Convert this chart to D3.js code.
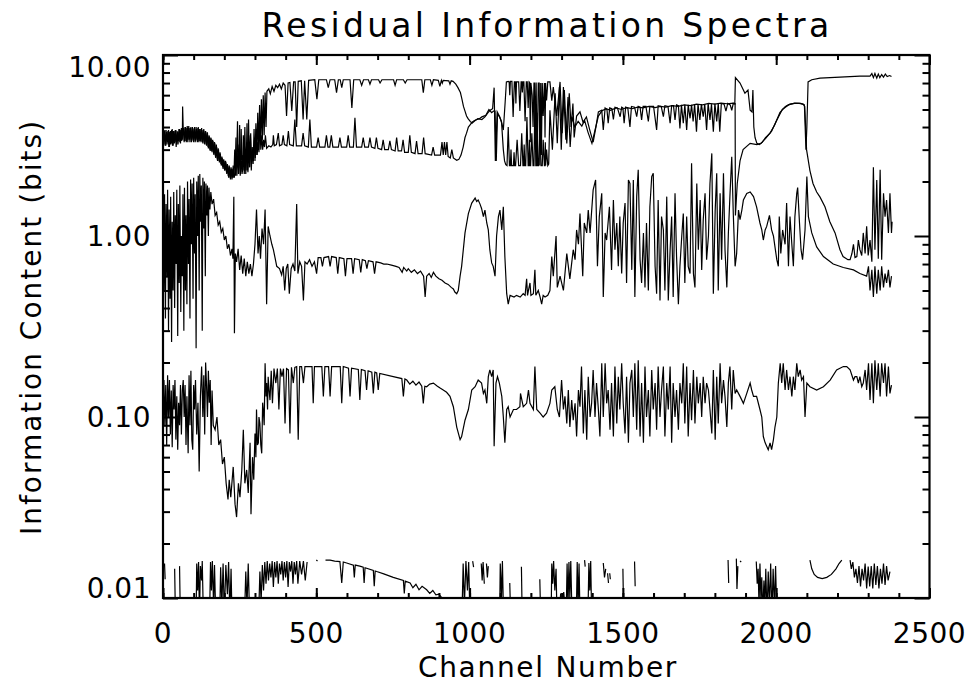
<!DOCTYPE html>
<html>
<head>
<meta charset="utf-8">
<script src="https://cdn.jsdelivr.net/npm/d3@7"></script>
<style>
  body { margin: 0; background: #fff; }
  text { font-family: "DejaVu Sans", sans-serif; fill: #000; }
</style>
</head>
<body>
<div id="chart"></div>
<script>
// axis ticks
const chTicks = [0, 500, 1000, 1500, 2000, 2500];
const infoTicks = [0.01, 0.1, 1, 10];
const infoTickLabels = ["0.01", "0.10", "1.00", "10.00"];

// spectra, [channel, bits]; null = no data
const spectrumA = [[0,3.8],[3,3.2],[6,3.85],[9,3.15],[12,3.75],[15,3.3],[18,3.85],[21,3.1],[24,3.8],[27,3.25],[30,3.9],[33,3.15],[36,3.8],[39,3.3],[42,3.85],[45,3.2],[48,3.75],[51,3.35],[54,3.9],[57,3.25],[60,3.95],[63,3.4],[64,5.2],[66,3.9],[69,3.3],[72,4.0],[75,3.35],[78,3.95],[81,3.3],[84,4.05],[87,3.4],[90,3.95],[93,3.3],[96,4.0],[99,3.35],[102,3.9],[105,3.3],[108,4.0],[111,3.4],[114,3.95],[117,3.3],[120,3.9],[123,3.35],[126,3.95],[129,3.3],[132,3.85],[135,3.25],[138,3.8],[141,3.2],[144,3.75],[147,3.1],[150,3.6],[153,3.0],[156,3.5],[159,2.95],[162,3.4],[165,2.85],[168,3.3],[171,2.75],[174,3.2],[177,2.65],[180,3.05],[183,2.6],[186,2.9],[189,2.5],[192,2.75],[195,2.4],[198,2.65],[201,2.3],[204,2.6],[207,2.25],[210,2.5],[213,2.15],[216,2.45],[219,2.1],[222,2.4],[225,2.05],[228,2.35],[231,2.1],[234,3.0],[237,2.15],[240,2.6],[243,4.3],[246,2.2],[249,3.2],[252,2.15],[255,3.9],[258,2.2],[261,2.8],[264,2.3],[267,4.0],[270,2.2],[273,3.3],[276,2.3],[279,4.4],[282,2.4],[285,3.6],[288,2.3],[291,3.1],[294,2.5],[297,3.9],[300,2.6],[303,4.2],[306,2.8],[309,4.8],[312,3.0],[315,5.3],[318,3.2],[321,5.7],[324,3.4],[327,6.0],[330,3.6],[333,6.2],[336,4.0],[339,6.3],
  [345,6.5],[350,6.1],[356,6.7],[362,6.3],[368,6.8],[374,6.6],[380,6.9],[386,6.5],[392,7.0],[398,6.8],[403,4.6],[408,7.0],[414,7.05],[420,4.9],[426,7.1],[431,7.1],[436,4.0],[441,7.15],[451,7.2],[457,4.4],[462,7.2],[469,4.4],[475,7.25],[495,7.3],[502,5.7],[508,7.3],[533,7.3],[539,6.6],[545,7.3],[560,7.3],[566,6.2],[572,7.3],[578,7.3],[583,6.6],[588,7.3],[610,7.3],[616,5.1],[622,7.3],[642,7.3],[648,6.8],[654,7.3],[670,7.3],[675,6.9],[680,7.3],[703,7.3],[708,7.0],[714,7.3],[752,7.3],[757,6.8],[762,7.3],[784,7.3],[790,7.0],[796,7.3],[844,7.3],[849,6.2],[854,7.3],[872,7.3],[877,6.8],[882,7.3],[898,7.25],[903,6.7],[908,7.25],[911,7.0],[914,7.25],[932,7.2],[936,6.9],[940,7.2],[946,7.15],[955,6.9],[962,6.6],[970,6.2],[975,5.7],[980,5.2],[985,4.9],[990,4.6],[995,4.45],[1002,4.3],[1008,4.2],[1018,4.35],[1027,4.45],[1040,4.4],[1050,4.55],[1060,4.8],[1067,4.95],[1075,5.05],[1080,6.6],[1084,2.6],[1090,4.85],[1097,4.6],[1105,4.2],[1110,3.85],[1116,5.5],[1120,7.1],[1126,7.15],[1129,7.1],[1131,6.0],[1133,7.15],[1138,7.15],[1142,4.55],[1146,7.1],[1149,7.1],[1151,5.4],[1153,7.1],[1160,7.1],[1164,4.9],[1168,7.1],[1170,7.1],[1172,6.2],[1174,7.1],[1177,7.1],[1181,4.3],[1185,7.1],[1188,7.1],[1191,5.1],[1194,7.1],[1196,7.05],[1198,3.3],[1200,7.0],[1204,6.0],[1207,4.0],[1210,7.0],[1212,7.0],[1214,3.0],[1217,7.05],[1220,2.5],[1224,7.0],[1227,7.0],[1229,2.45],[1232,7.0],[1234,2.8],[1237,7.0],[1240,4.6],[1244,7.0],[1246,3.5],[1248,7.0],[1251,5.6],[1255,7.1],[1262,7.1],[1268,5.6],[1273,6.65],[1284,4.6],[1295,7.1],[1302,3.7],[1309,6.4],[1317,3.25],[1325,6.15],[1331,4.0],[1337,5.4],[1341,3.5],[1349,4.6],[1360,4.85],[1370,4.25],[1381,4.55],[1392,3.85],[1403,3.3],[1412,4.0],[1420,4.85],[1431,4.95],
  [1436,3.85],[1442,5.1],[1448,5.0],[1452,4.2],[1457,5.1],[1464,5.05],[1469,4.4],[1474,5.15],[1482,5.1],[1491,4.56],[1496,5.15],[1500,5.1],[1504,4.2],[1509,5.15],[1516,5.1],[1523,4.0],[1528,5.2],[1538,5.15],[1545,4.56],[1550,5.2],[1556,5.15],[1561,4.38],[1566,5.2],[1575,5.2],[1583,4.3],[1588,5.2],[1600,5.2],[1610,3.85],[1615,5.25],[1625,5.2],[1632,4.56],[1637,5.25],[1647,5.2],[1654,4.2],[1659,5.25],[1665,5.25],[1670,4.38],[1675,5.3],[1681,5.25],[1686,3.93],[1691,5.3],[1697,4.2],[1702,5.3],[1708,3.85],[1713,5.3],[1719,4.47],[1724,5.3],[1729,4.3],[1734,5.35],[1740,3.77],[1745,5.35],[1751,4.38],[1756,5.35],[1762,4.56],[1767,5.35],[1773,3.85],[1778,5.4],[1784,4.38],[1789,5.35],[1795,3.77],[1800,5.4],[1806,4.3],[1811,5.4],[1816,3.77],[1821,5.4],[1830,5.35],[1836,4.9],[1842,5.4],[1850,5.3],[1855,4.95],[1860,5.4],[1865,5.35],
  [1867,7.5],[1882,7.0],[1898,6.15],[1908,6.4],[1915,4.95],[1921,4.85],[1924,6.4],[1927,4.0],[1931,3.5],[1937,3.25],[1945,3.2],[1955,3.3],[1965,3.5],[1980,3.7],[1995,4.1],[2012,4.8],[2030,5.2],[2045,5.35],[2060,5.4],[2075,5.4],[2088,5.35],[2093,5.2],[2096,4.0],[2099,3.0],[2110,2.3],[2120,1.95],[2132,1.75],[2143,1.64],[2159,1.45],[2175,1.2],[2192,1.04],[2208,0.84],[2218,0.77],[2234,0.74],[2241,0.74],[2247,0.8],[2252,0.9],[2257,0.76],[2263,0.77],[2268,0.95],[2273,0.84],[2279,0.78],[2284,1.04],[2290,0.8],[2295,1.13],[2300,0.78],[2306,0.95],[2312,0.72],[2317,2.4],[2322,0.84],[2328,2.04],[2333,0.75],[2339,2.32],[2344,0.74],[2350,1.72],[2355,1.28],[2360,1.58],[2366,1.04],[2371,1.72],[2376,1.04],[2378,1.2]];

const spectrumB = [[1,3.3],[4,3.8],[7,3.15],[10,3.85],[13,3.2],[16,3.8],[19,3.1],[22,3.75],[25,3.2],[28,3.85],[31,3.15],[34,3.8],[37,3.25],[40,3.85],[43,3.1],[46,3.8],[49,3.2],[52,3.9],[55,3.3],[58,3.85],[61,3.35],[67,3.95],[70,3.35],[73,4.0],[76,3.3],[79,4.05],[82,3.4],[85,3.95],[88,3.3],[91,4.0],[94,3.4],[97,3.95],[100,3.3],[103,4.0],[106,3.35],[109,3.9],[112,3.3],[115,4.0],[118,3.35],[121,3.9],[124,3.3],[127,3.85],[130,3.25],[133,3.9],[136,3.2],[139,3.8],[142,3.15],[145,3.7],[148,3.05],[151,3.55],[154,2.95],[157,3.45],[160,2.9],[163,3.35],[166,2.8],[169,3.25],[172,2.7],[175,3.1],[178,2.6],[181,3.0],[184,2.55],[187,2.85],[190,2.45],[193,2.7],[196,2.35],[199,2.6],[202,2.3],[205,2.55],[208,2.2],[211,2.45],[214,2.1],[217,2.4],[220,2.05],[223,2.35],[226,2.1],[229,2.45],[232,2.1],[235,2.2],[238,3.5],[241,2.15],[244,2.9],[247,2.2],[250,4.1],[253,2.2],[256,2.6],[259,2.25],[262,3.6],[265,2.2],[268,2.9],[271,2.3],[274,4.2],[277,2.25],[280,3.0],[283,2.4],[286,3.7],[289,2.5],[292,2.9],[295,2.6],[298,3.4],[301,2.7],[304,3.9],[307,2.8],[310,3.3],[313,2.9],[316,4.4],[319,3.0],[322,3.6],[325,3.0],[328,3.4],[331,3.1],[334,3.6],[338,3.05],
  [345,3.15],[352,3.1],[358,3.2],[360,3.6],[363,3.15],[370,3.2],[376,3.7],[380,3.15],[388,3.2],[392,3.6],[396,3.2],[404,3.15],[409,3.8],[413,3.2],[425,3.15],[430,4.4],[435,3.15],[452,3.15],[457,3.7],[462,3.15],[474,3.1],[479,4.4],[484,3.1],[501,3.1],[506,3.5],[511,3.1],[528,3.1],[533,3.6],[538,3.1],[544,3.1],[549,3.6],[554,3.1],[572,3.1],[577,3.5],[582,3.1],[599,3.1],[604,3.6],[609,3.1],[621,3.1],[626,4.5],[631,3.1],[648,3.1],[653,3.5],[658,3.1],[670,3.1],[675,3.5],[680,3.1],[691,3.05],[696,3.5],[701,3.05],[713,3.0],[718,3.4],[723,3.0],[735,3.0],[740,3.35],[745,3.0],[757,2.95],[762,3.5],[767,2.95],[778,2.95],[783,3.4],[788,2.9],[800,2.9],[805,3.6],[810,2.9],[822,2.85],[827,3.35],[832,2.85],[845,2.85],[850,3.5],[855,2.85],[876,2.8],[881,3.1],[886,2.8],[905,2.8],[910,3.3],[914,2.8],[918,3.3],[922,2.8],[926,3.3],[930,2.75],[937,2.7],[942,3.0],[947,2.7],[958,2.62],[965,2.65],[972,2.8],[979,3.1],[985,3.5],[990,3.7],[996,4.0],[1001,4.1],[1008,4.25],[1016,4.35],[1024,4.4],[1032,4.45],[1040,4.55],[1053,4.65],[1063,5.0],[1072,4.8],[1078,4.9],[1083,4.9],[1087,2.6],[1091,4.7],[1098,4.55],[1104,4.3],[1110,3.0],[1114,2.6],[1118,2.48],[1122,2.45],[1126,4.0],[1130,2.45],[1133,2.45],[1135,3.0],[1137,2.45],[1143,2.45],[1145,2.9],[1147,2.45],[1150,2.45],[1155,3.4],[1160,2.45],[1166,2.45],[1170,3.7],[1174,2.45],[1176,2.45],[1178,3.2],[1180,2.45],[1183,2.45],[1187,4.55],[1191,2.45],[1193,2.45],[1195,3.4],[1197,2.45],[1199,2.45],[1203,3.7],[1207,2.45],[1210,2.45],[1213,5.65],[1216,2.45],[1218,2.45],[1220,4.8],[1222,2.45],[1225,2.45],[1229,4.1],[1233,2.45],[1237,2.45],[1240,3.4],[1244,2.45],[1246,2.45],[1247,3.3],[1248,2.45],[1251,3.0],[1255,2.45],[1258,2.5],[1262,4.95],[1270,3.0],[1279,6.15],[1286,3.25],[1293,6.65],[1299,3.0],[1306,6.65],[1314,3.4],[1321,5.85],[1328,3.1],[1334,4.56],[1343,4.0],[1354,4.3],[1366,4.05],[1375,4.35],[1386,3.75],[1399,3.25],[1409,3.85],[1420,4.6],[1431,4.9],
  [1445,5.05],[1460,4.95],[1478,5.1],[1495,5.0],[1512,5.12],[1530,5.05],[1548,5.15],[1565,5.1],[1585,5.2],[1605,5.12],[1622,5.2],[1640,5.15],[1660,5.25],[1680,5.2],[1700,5.3],[1720,5.25],[1740,5.35],[1760,5.3],[1780,5.4],[1800,5.35],[1820,5.42],[1840,5.38],[1860,5.42],[1866,5.4],[1867,1.3],[1873,1.95],[1882,2.6],[1892,3.0],[1915,3.25],[1937,3.2],[1950,3.25],[1965,3.45],[1985,3.8],[2000,4.3],[2020,5.0],[2040,5.3],[2060,5.42],[2080,5.4],[2092,5.3],[2097,3.0],[2100,4.0],[2104,7.1],[2116,7.3],[2143,7.45],[2208,7.55],[2273,7.65],[2306,7.65],[2312,7.9],[2317,7.5],[2322,7.9],[2328,7.45],[2333,7.85],[2338,7.5],[2344,7.8],[2350,7.55],[2356,7.85],[2362,7.6],[2370,7.7],[2376,7.6]];

const spectrumMid = [[0,1.6],[3,0.5],[5,1.7],[8,0.35],[10,1.5],[13,0.6],[15,1.8],[18,0.3],[20,1.4],[23,0.45],[25,1.65],[28,0.26],[30,1.2],[33,0.5],[35,1.75],[38,0.4],[40,1.3],[43,0.7],[45,1.8],[48,0.28],[50,1.5],[53,0.55],[55,1.9],[58,0.38],[60,1.0],[63,0.6],[65,1.7],[68,0.3],[70,1.85],[73,0.5],[75,1.3],[78,0.42],[80,2.0],[83,0.7],[85,1.6],[88,0.35],[90,2.05],[93,0.9],[95,1.95],[98,0.45],[100,2.1],[103,0.8],[105,1.7],[108,0.24],[110,2.0],[113,1.0],[115,2.15],[118,0.5],[120,2.2],[123,1.2],[125,1.9],[128,0.3],[130,2.1],[133,1.1],[135,2.0],[138,0.6],[140,1.95],[143,1.3],[145,1.9],[148,1.0],[150,1.85],[153,1.4],[156,1.75],[160,1.5],[165,1.6],[170,1.3],[175,1.35],[180,1.15],[185,1.2],[190,1.05],[195,1.1],[200,0.95],[205,1.0],[210,0.85],[215,0.9],[220,0.78],[225,0.85],[228,0.75],[231,1.65],[233,0.29],[236,0.8],[240,0.72],[245,0.85],[250,0.65],[255,0.78],[260,0.62],[265,0.75],[270,0.6],[275,0.72],[280,0.62],[285,0.7],[290,0.6],[295,0.7],[300,0.9],[305,1.4],[310,0.8],[314,1.0],[318,0.75],[323,1.1],[328,0.9],[333,1.4],[338,0.42],[343,1.13],[349,1.0],[355,0.9],[360,0.84],[366,0.75],[371,0.68],[380,0.66],[387,0.61],[392,0.68],[397,0.5],[402,0.66],[407,0.7],[412,0.48],[418,0.66],[424,0.7],[430,0.64],[436,1.5],[440,0.62],[446,0.72],[452,0.68],[458,0.44],[463,0.72],[470,0.7],[478,0.74],[486,0.68],[494,0.72],[501,0.62],[506,0.76],
  [515,0.76],[520,0.68],[525,0.76],[540,0.77],[545,0.68],[550,0.77],[565,0.76],[570,0.62],[575,0.76],[590,0.75],[595,0.6],[600,0.75],[615,0.75],[620,0.62],[625,0.75],[640,0.74],[645,0.63],[650,0.74],[660,0.73],[665,0.66],[670,0.73],[685,0.72],[690,0.62],[695,0.72],[710,0.71],[720,0.7],[730,0.7],[745,0.69],[760,0.68],[770,0.67],[780,0.63],[785,0.67],[795,0.64],[800,0.66],[810,0.63],[820,0.65],[830,0.62],[840,0.64],[850,0.6],[855,0.46],[860,0.6],[868,0.62],[875,0.59],[882,0.63],[890,0.6],[900,0.58],[910,0.57],[920,0.55],[930,0.54],[940,0.52],[947,0.51],[952,0.49],[958,0.48],[963,0.5],[969,0.6],[974,0.68],[985,1.04],[996,1.33],[1007,1.52],[1018,1.62],[1023,1.55],[1028,1.58],[1034,1.5],[1039,1.42],[1045,1.28],[1050,1.39],[1056,1.18],[1061,1.08],[1066,0.84],[1072,0.71],[1077,0.68],[1083,0.6],[1088,1.0],[1094,1.28],[1099,1.39],[1105,1.08],[1110,1.45],[1115,0.77],[1121,0.48],[1126,0.42],[1132,0.47],[1145,0.46],[1153,0.47],[1165,0.46],[1175,0.48],[1181,0.47],[1186,0.58],[1189,0.47],[1192,0.5],[1197,0.55],[1200,0.47],[1208,0.48],[1213,0.65],[1216,0.47],[1224,0.5],[1230,0.46],[1235,0.42],[1240,0.47],[1246,0.46],[1255,0.47],[1262,0.5],[1268,0.77],[1273,0.6],[1282,1.0],[1286,0.52],[1295,0.6],[1306,0.5],[1317,0.8],[1327,0.58],[1338,0.84],[1344,0.74],[1349,1.08],[1355,0.9],[1360,1.33],[1369,0.6],[1374,1.18],[1382,1.04],[1387,1.39],[1393,1.04],[1403,1.8],[1411,2.04],[1417,0.68],
  [1423,1.28],[1431,1.72],[1436,0.46],[1442,1.04],[1447,0.95],[1456,1.45],[1463,0.65],[1469,1.58],[1474,0.84],[1480,1.18],[1485,0.68],[1490,1.28],[1496,0.62],[1501,1.18],[1507,1.52],[1512,0.55],[1518,2.04],[1523,1.95],[1529,0.65],[1534,2.04],[1539,0.46],[1545,1.65],[1550,2.32],[1556,0.74],[1561,0.55],[1567,1.04],[1572,0.52],[1577,1.18],[1583,0.5],[1588,1.45],[1594,2.13],[1599,2.22],[1605,0.68],[1610,0.48],[1615,1.58],[1621,0.44],[1626,1.28],[1632,1.08],[1637,0.5],[1643,1.65],[1648,0.44],[1654,0.84],[1659,1.28],[1664,0.46],[1670,1.72],[1675,0.77],[1681,0.42],[1686,0.68],[1692,1.0],[1697,1.33],[1702,0.55],[1708,1.28],[1713,0.68],[1719,0.62],[1724,2.52],[1730,0.62],[1735,0.52],[1741,1.95],[1746,0.84],[1752,1.58],[1757,0.65],[1762,1.23],[1768,1.72],[1773,0.74],[1779,1.0],[1784,1.95],[1790,2.86],[1795,0.48],[1801,1.39],[1806,2.22],[1811,0.5],[1817,1.72],[1822,0.74],[1828,2.22],[1833,0.84],[1839,0.52],[1844,1.04],[1849,1.65],[1855,2.74],[1860,1.33],[1866,0.68],[1871,0.8],[1877,1.39],[1882,1.23],[1888,1.39],[1893,1.58],[1904,1.72],[1915,1.75],[1926,1.65],[1936,1.45],[1947,1.18],[1953,1.08],[1958,0.95],[1964,1.08],[1969,1.13],[1978,1.3],[1985,1.08],[1991,1.0],[1996,0.87],[2002,0.74],[2007,0.68],[2010,1.28],[2015,0.8],[2021,1.08],[2029,0.9],[2034,1.52],[2040,0.68],[2045,1.28],[2051,0.9],[2056,0.68],[2061,1.28],[2067,1.72],[2070,1.85],[2076,1.18],[2081,0.84],[2086,0.74],[2094,1.08],[2100,2.13],[2105,1.28],[2116,1.04],[2132,0.87],[2154,0.77],[2186,0.7],[2219,0.67],[2252,0.65],[2273,0.62],[2295,0.6],[2301,0.68],[2306,0.5],[2312,0.65],[2317,0.46],[2322,0.68],[2328,0.48],[2333,0.65],[2339,0.5],[2344,0.68],[2350,0.52],[2355,0.62],[2360,0.55],[2366,0.65],[2371,0.52],[2376,0.6]];

const spectrumLow = [[0,0.12],[3,0.16],[6,0.09],[9,0.15],[12,0.07],[15,0.17],[18,0.1],[21,0.16],[24,0.08],[27,0.14],[30,0.068],[33,0.15],[36,0.11],[39,0.16],[42,0.075],[45,0.13],[48,0.066],[51,0.12],[54,0.09],[57,0.15],[60,0.08],[63,0.14],[66,0.16],[69,0.1],[72,0.15],[75,0.07],[78,0.13],[82,0.063],[85,0.17],[88,0.09],[91,0.18],[94,0.075],[97,0.066],[100,0.15],[103,0.11],[106,0.16],[110,0.08],[114,0.12],[118,0.05],[122,0.13],[126,0.19],[130,0.1],[133,0.17],[136,0.08],[139,0.2],[142,0.15],[145,0.1],[148,0.18],[151,0.12],[154,0.16],[157,0.07],[160,0.14],[164,0.09],[170,0.085],[176,0.1],[182,0.07],[188,0.075],[194,0.055],[200,0.06],[206,0.043],[212,0.035],[216,0.045],[221,0.036],[229,0.053],[235,0.033],[240,0.028],[246,0.043],[251,0.036],[257,0.051],[262,0.085],[267,0.043],[273,0.051],[278,0.038],[284,0.072],[287,0.029],[292,0.06],[296,0.045],[300,0.081],[303,0.06],[305,0.11],[308,0.07],[311,0.072],[313,0.1],[316,0.092],[319,0.07],[322,0.063],[325,0.12],[327,0.11],[330,0.09],[333,0.198],[336,0.13],[338,0.154],[341,0.11],[343,0.167],[346,0.14],[349,0.124],[353,0.18],[357,0.119],[362,0.185],[368,0.154],[373,0.185],[378,0.11],[383,0.185],[388,0.167],[393,0.185],[398,0.092],[403,0.185],[409,0.182],[414,0.081],[419,0.188],[425,0.154],[430,0.188],[436,0.19],[441,0.075],[446,0.19],[452,0.19],[458,0.154],[463,0.19],[479,0.19],[486,0.19],[490,0.119],[494,0.19],[518,0.19],[523,0.13],[528,0.19],[540,0.19],[545,0.13],[550,0.19],[578,0.19],[583,0.119],[588,0.19],[605,0.186],[610,0.13],[615,0.186],[637,0.183],[642,0.124],[647,0.183],[659,0.18],[664,0.141],[669,0.18],[681,0.177],[686,0.135],[691,0.177],[697,0.175],[702,0.141],[707,0.174],[751,0.167],[779,0.163],[784,0.13],[789,0.162],[795,0.16],[805,0.152],[815,0.158],[825,0.15],[835,0.156],[844,0.148],[849,0.119],[854,0.148],[860,0.147],[870,0.152],[882,0.154],[895,0.148],[905,0.144],[914,0.141],[925,0.137],[936,0.13],[947,0.114],[958,0.088],[969,0.075],[974,0.078],[985,0.096],[996,0.11],[1007,0.141],[1018,0.147],[1028,0.16],[1039,0.154],[1045,0.135],[1050,0.141],[1056,0.119],[1061,0.167],[1066,0.182],[1072,0.167],[1077,0.182],[1080,0.069],[1086,0.154],[1091,0.167],[1097,0.154],[1105,0.13],[1110,0.1],[1115,0.072],[1121,0.11],[1126,0.114],[1132,0.1],[1143,0.11],[1153,0.11],[1164,0.114],[1166,0.135],[1175,0.114],[1186,0.119],[1192,0.141],[1197,0.119],[1208,0.11],[1213,0.19],[1219,0.11],[1230,0.105],[1240,0.1],[1251,0.105],[1262,0.119],[1268,0.141],[1278,0.147],[1286,0.11],[1293,0.1],[1300,0.16],[1306,0.11],[1311,0.13],[1317,0.092],[1322,0.141],[1327,0.088],[1333,0.124],[1338,0.096],[1344,0.119],[1349,0.078],[1355,0.141],[1360,0.114],[1365,0.19],[1371,0.081],[1376,0.141],[1382,0.075],[1387,0.167],[1393,0.1],[1398,0.119],[1403,0.182],[1409,0.1],[1414,0.154],[1420,0.11],[1425,0.078],[1431,0.198],[1436,0.1],[1442,0.198],[1447,0.119],[1452,0.141],[1458,0.085],[1463,0.154],[1469,0.078],[1474,0.19],[1480,0.092],[1485,0.167],[1490,0.11],[1496,0.198],[1501,0.119],[1507,0.081],[1512,0.167],[1518,0.072],[1523,0.154],[1529,0.182],[1534,0.1],[1539,0.198],[1545,0.085],[1550,0.206],[1556,0.078],[1561,0.154],[1567,0.072],[1572,0.19],[1577,0.1],[1583,0.141],[1588,0.078],[1594,0.182],[1599,0.11],[1605,0.154],[1610,0.085],[1615,0.19],[1621,0.1],[1626,0.141],[1632,0.19],[1637,0.078],[1643,0.154],[1648,0.11],[1654,0.19],[1659,0.072],[1664,0.154],[1670,0.1],[1675,0.141],[1681,0.085],[1686,0.154],[1692,0.119],[1697,0.198],[1702,0.092],[1708,0.19],[1713,0.078],[1719,0.154],[1724,0.096],[1730,0.182],[1735,0.092],[1741,0.167],[1746,0.119],[1752,0.154],[1757,0.1],[1762,0.167],[1768,0.119],[1773,0.154],[1779,0.141],[1784,0.11],[1790,0.081],[1795,0.182],[1801,0.075],[1806,0.167],[1811,0.092],[1817,0.198],[1822,0.119],[1828,0.16],[1833,0.13],[1839,0.088],[1844,0.154],[1849,0.19],[1855,0.11],[1860,0.182],[1866,0.135],[1871,0.141],[1882,0.13],[1893,0.119],[1904,0.135],[1915,0.154],[1920,0.141],[1926,0.13],[1936,0.13],[1947,0.11],[1953,0.1],[1958,0.078],[1964,0.072],[1969,0.069],[1974,0.066],[1980,0.072],[1985,0.066],[1991,0.075],[1996,0.088],[2002,0.1],[2007,0.154],[2013,0.198],[2018,0.154],[2023,0.198],[2029,0.141],[2034,0.182],[2040,0.141],[2045,0.167],[2051,0.13],[2056,0.167],[2061,0.141],[2067,0.198],[2072,0.167],[2078,0.182],[2083,0.16],[2089,0.167],[2094,0.1],[2100,0.154],[2110,0.147],[2132,0.141],[2154,0.147],[2176,0.16],[2197,0.182],[2219,0.19],[2230,0.19],[2241,0.182],[2252,0.16],[2257,0.167],[2263,0.167],[2268,0.154],[2273,0.167],[2279,0.147],[2284,0.154],[2290,0.182],[2295,0.141],[2301,0.198],[2306,0.124],[2312,0.198],[2317,0.119],[2322,0.206],[2328,0.141],[2333,0.198],[2339,0.13],[2344,0.198],[2350,0.154],[2355,0.198],[2360,0.13],[2366,0.19],[2371,0.135],[2376,0.15]];

const spectrumFloor = [[5,0.0155],[7,0.0127],[7,null],[38,0.0145],[40,0.009],[40,null],[54,0.015],[56,0.009],[56,null],
  [108,0.008],[110,0.0155],[113,0.011],[116,0.0158],[119,0.008],[122,0.015],[126,0.0125],[128,0.016],[131,0.009],[131,null],
  [152,0.008],[155,0.0158],[158,0.011],[161,0.016],[165,0.009],[168,0.0152],[172,0.008],[172,null],
  [185,0.008],[188,0.0148],[192,0.009],[196,0.0155],[200,0.008],[205,0.0152],[210,0.0105],[214,0.0158],[218,0.008],[222,0.0145],[225,0.008],[225,null],
  [266,0.008],[270,0.014],[274,0.009],[278,0.0155],[282,0.0085],[282,null],
  [312,0.008],[316,0.014],[320,0.0095],[324,0.0152],[328,0.011],[332,0.0158],[336,0.012],[340,0.016],[344,0.0125],[348,0.0155],[352,0.013],[356,0.016],[360,0.0115],[364,0.0158],[368,0.013],[372,0.016],[376,0.012],[380,0.0155],[384,0.0135],[388,0.016],[392,0.0125],[396,0.0158],[400,0.013],[404,0.016],[408,0.0115],[412,0.0158],[416,0.014],[420,0.016],[424,0.012],[428,0.0158],[432,0.0135],[436,0.016],[440,0.012],[446,0.016],[452,0.0135],[458,0.016],[464,0.0125],[470,0.0158],[470,null],[500,0.0162],[504,0.016],[504,null],
  [530,0.0162],[545,0.0162],[560,0.016],[577,0.0159],[583,0.0121],[588,0.0158],[599,0.0156],[621,0.0152],[624,0.013],[627,0.0152],[642,0.015],[653,0.0148],[656,0.0121],[659,0.0147],[686,0.0142],[689,0.0116],[692,0.0141],[697,0.014],[720,0.0136],[751,0.013],[784,0.0125],[787,0.0106],[790,0.0124],[806,0.0121],[815,0.0114],[825,0.0119],[835,0.0111],[845,0.0116],[860,0.0111],[870,0.0106],[880,0.011],[890,0.0104],[900,0.0105],[914,0.0098],[925,0.009],[925,null],
  [975,0.008],[979,0.0155],[983,0.009],[988,0.016],[993,0.011],[997,0.0158],[1001,0.008],[1001,null],[1010,0.016],[1013,0.0148],[1013,null],
  [1038,0.0155],[1041,0.0125],[1044,0.0158],[1048,0.012],[1048,null],[1055,0.0155],[1058,0.013],[1061,0.015],[1061,null],
  [1098,0.008],[1100,0.0155],[1104,0.01],[1107,0.016],[1110,0.009],[1110,null],[1131,0.0121],[1133,0.009],[1133,null],
  [1169,0.0149],[1171,0.009],[1171,null],[1201,0.0106],[1203,0.009],[1203,null],[1229,0.0127],[1231,0.009],[1231,null],
  [1266,0.008],[1268,0.0155],[1271,0.012],[1274,0.016],[1278,0.011],[1282,0.0145],[1285,0.008],[1285,null],
  [1294,0.009],[1297,0.0106],[1302,0.009],[1307,0.0108],[1311,0.009],[1311,null],
  [1315,0.008],[1318,0.0155],[1321,0.009],[1324,0.0158],[1327,0.01],[1330,0.016],[1334,0.008],[1334,null],
  [1348,0.008],[1351,0.0158],[1354,0.009],[1357,0.0155],[1360,0.008],[1360,null],[1375,0.0162],[1377,0.0149],[1377,null],
  [1386,0.008],[1389,0.0156],[1392,0.011],[1395,0.016],[1398,0.008],[1398,null],
  [1436,0.0156],[1440,0.013],[1444,0.0145],[1444,null],[1450,0.0137],[1453,0.0121],[1453,null],[1457,0.0137],[1459,0.0127],[1459,null],
  [1500,0.0145],[1502,0.009],[1502,null],[1538,0.0159],[1540,0.0116],[1540,null],[1600,0.0106],[1602,0.009],[1602,null],[1701,0.0106],[1703,0.009],[1703,null],
  [1843,0.0162],[1845,0.0121],[1845,null],[1870,0.0165],[1872,0.0112],[1875,0.015],[1875,null],[1882,0.016],[1886,0.0158],[1886,null],
  [1935,0.0159],[1938,0.012],[1941,0.0145],[1944,0.009],[1947,0.0155],[1950,0.01],[1953,0.013],[1956,0.008],[1960,0.0125],[1963,0.009],[1966,0.0145],[1970,0.008],[1974,0.014],[1978,0.009],[1982,0.0155],[1986,0.008],[1990,0.0145],[1994,0.009],[1998,0.015],[2002,0.008],[2002,null],
  [2110,0.0162],[2116,0.0145],[2124,0.0135],[2135,0.013],[2150,0.0128],[2165,0.013],[2180,0.0135],[2195,0.0145],[2205,0.0155],[2214,0.0162],[2214,null],
  [2241,0.0162],[2245,0.0145],[2250,0.0158],[2255,0.013],[2260,0.0145],[2265,0.0121],[2270,0.015],[2275,0.0116],[2280,0.0145],[2285,0.0125],[2290,0.0155],[2295,0.0113],[2300,0.0149],[2305,0.0116],[2310,0.015],[2315,0.0113],[2320,0.0155],[2325,0.0118],[2330,0.015],[2335,0.0113],[2340,0.0145],[2345,0.012],[2350,0.0155],[2355,0.0118],[2360,0.015],[2365,0.0125],[2371,0.014]];

const W = 973, H = 693;
const plot = { left: 163, right: 929.5, top: 55, bottom: 598 };

const x = d3.scaleLinear().domain([0, 2500]).range([plot.left, plot.right]);
const y = d3.scaleLog().domain([0.01, 10]).range([plot.bottom, plot.top]);

const svg = d3.select("#chart")
  .append("svg")
  .attr("width", W)
  .attr("height", H);

svg.append("defs").append("clipPath")
  .attr("id", "clip-plot")
  .append("rect")
  .attr("x", plot.left)
  .attr("y", plot.top)
  .attr("width", plot.right - plot.left)
  .attr("height", plot.bottom - plot.top);

const line = d3.line()
  .defined(d => d[1] != null)
  .x(d => x(d[0]))
  .y(d => y(d[1]));

const curves = svg.append("g").attr("clip-path", "url(#clip-plot)");
[spectrumA, spectrumB, spectrumMid, spectrumLow, spectrumFloor].forEach(s => {
  curves.append("path")
    .datum(s)
    .attr("fill", "none")
    .attr("stroke", "#000")
    .attr("stroke-width", 1.2)
    .attr("d", line);
});

// ticks pointing inward on all four sides
const minorCh = d3.range(0, 2501, 100);
const minorInfo = [];
[0.01, 0.1, 1].forEach(dec => { for (let k = 2; k <= 9; k++) minorInfo.push(dec * k); });

function ticks(axis, values, size, transform) {
  svg.append("g")
    .attr("transform", transform)
    .call(axis.tickValues(values).tickSize(-size).tickFormat(""))
    .call(g => g.select(".domain").remove())
    .call(g => g.selectAll("line").attr("stroke", "#000").attr("stroke-width", 2));
}
ticks(d3.axisBottom(x), minorCh, 5, `translate(0,${plot.bottom})`);
ticks(d3.axisBottom(x), chTicks, 10, `translate(0,${plot.bottom})`);
ticks(d3.axisTop(x), minorCh, 5, `translate(0,${plot.top})`);
ticks(d3.axisTop(x), chTicks, 10, `translate(0,${plot.top})`);
ticks(d3.axisLeft(y), minorInfo, 7, `translate(${plot.left},0)`);
ticks(d3.axisLeft(y), infoTicks, 15, `translate(${plot.left},0)`);
ticks(d3.axisRight(y), minorInfo, 7, `translate(${plot.right},0)`);
ticks(d3.axisRight(y), infoTicks, 15, `translate(${plot.right},0)`);

svg.append("rect")
  .attr("x", plot.left)
  .attr("y", plot.top)
  .attr("width", plot.right - plot.left)
  .attr("height", plot.bottom - plot.top)
  .attr("fill", "none")
  .attr("stroke", "#000")
  .attr("stroke-width", 2.2);

// tick labels
svg.append("g").selectAll("text")
  .data(chTicks)
  .join("text")
  .attr("x", d => x(d))
  .attr("y", 643)
  .attr("text-anchor", "middle")
  .attr("font-size", 28)
  .attr("letter-spacing", 0.5)
  .text(d => d);

svg.append("g").selectAll("text")
  .data(infoTicks)
  .join("text")
  .attr("x", 151)
  .attr("y", d => Math.min(Math.max(y(d), plot.top + 12), plot.bottom - 10) + 10)
  .attr("text-anchor", "end")
  .attr("font-size", 28)
  .attr("letter-spacing", 0.5)
  .text((d, i) => infoTickLabels[i]);

// titles
svg.append("text")
  .attr("x", 547)
  .attr("y", 37)
  .attr("text-anchor", "middle")
  .attr("font-size", 33)
  .attr("letter-spacing", 3.3)
  .text("Residual Information Spectra");

svg.append("text")
  .attr("x", 548)
  .attr("y", 677)
  .attr("text-anchor", "middle")
  .attr("font-size", 28)
  .attr("letter-spacing", 1.7)
  .text("Channel Number");

svg.append("text")
  .attr("transform", "translate(41,327) rotate(-90)")
  .attr("text-anchor", "middle")
  .attr("font-size", 28)
  .attr("letter-spacing", 2)
  .text("Information Content (bits)");
</script>
</body>
</html>
